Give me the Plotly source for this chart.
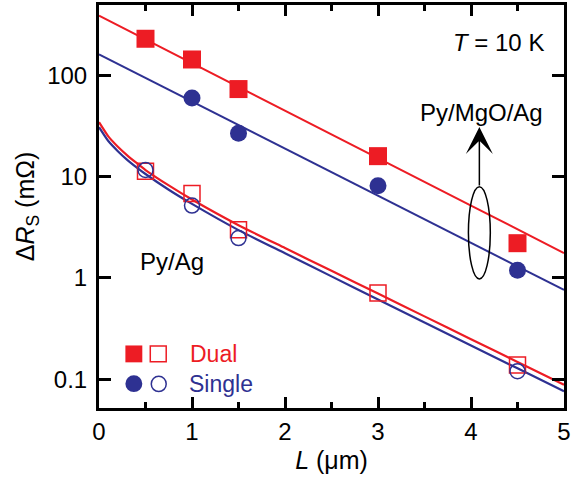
import plotly.graph_objects as go

# ---------------- data ----------------
L_pts = [0.5, 1.0, 1.5, 3.0, 4.5]
dual_mgo = [229, 143, 73, 15.9, 2.2]          # filled squares (Py/MgO/Ag, dual)
L_single_mgo = [1.0, 1.5, 3.0, 4.5]
single_mgo = [59.5, 26.8, 8.1, 1.19]          # filled circles (Py/MgO/Ag, single)
dual_ag = [11.3, 6.8, 2.98, 0.71, 0.138]      # open squares (Py/Ag, dual)
L_single_ag = [0.5, 1.0, 1.5, 4.5]
single_ag = [11.6, 5.17, 2.47, 0.12]          # open circles (Py/Ag, single)

# fitted curves
L_fit_mgo = [0, 1, 2, 3, 4, 5]
fit_dual_mgo = [387, 131, 44.8, 15.2, 5.17, 1.76]
fit_single_mgo = [161, 55, 18.8, 6.45, 2.21, 0.76]
L_fit_ag = [0, 0.1, 0.2, 0.3, 0.4, 0.5, 0.75, 1.0, 1.5, 2.0, 2.5, 3.0, 3.5, 4.0, 4.5, 5.0]
fit_dual_ag = [34.4, 24.9, 19.8, 16.3, 13.7, 11.6, 8.18, 5.93, 3.31, 1.97, 1.175,
               0.70, 0.417, 0.248, 0.148, 0.088]
fit_single_ag = [30.7, 22.4, 17.9, 14.7, 12.4, 10.6, 7.41, 5.37, 2.96, 1.75, 1.035,
                 0.612, 0.363, 0.215, 0.128, 0.076]

y_tickvals = [0.1, 1, 10, 100]
y_ticktext = ["0.1", "1", "10", "100"]
x_tickvals = [0, 1, 2, 3, 4, 5]

RED = "#ED1C24"
BLUE = "#2E3192"
FONT = "Liberation Sans, Arial, Helvetica, sans-serif"

W, H = 573, 483
ML, MR, MT, MB = 99, 7, 2, 75
PW, PH = W - ML - MR, H - MT - MB


def px(x):
    return (x - ML) / PW


def py(y):
    return (H - MB - y) / PH


fig = go.Figure()

# fit curves
fig.add_trace(go.Scatter(x=L_fit_mgo, y=fit_dual_mgo, mode="lines",
                         line=dict(color=RED, width=2), showlegend=False))
fig.add_trace(go.Scatter(x=L_fit_mgo, y=fit_single_mgo, mode="lines",
                         line=dict(color=BLUE, width=2), showlegend=False))
fig.add_trace(go.Scatter(x=L_fit_ag, y=fit_single_ag, mode="lines",
                         line=dict(color=BLUE, width=2.2, shape="spline", smoothing=0.5),
                         showlegend=False))
fig.add_trace(go.Scatter(x=L_fit_ag, y=fit_dual_ag, mode="lines",
                         line=dict(color=RED, width=2.2, shape="spline", smoothing=0.5),
                         showlegend=False))

# data points
fig.add_trace(go.Scatter(x=L_pts, y=dual_mgo, mode="markers",
                         marker=dict(symbol="square", size=18, color=RED, line=dict(width=0)),
                         showlegend=False))
fig.add_trace(go.Scatter(x=L_single_mgo, y=single_mgo, mode="markers",
                         marker=dict(symbol="circle", size=17, color=BLUE, line=dict(width=0)),
                         showlegend=False))
fig.add_trace(go.Scatter(x=L_pts, y=dual_ag, mode="markers",
                         marker=dict(symbol="square-open", size=16, color=RED, line=dict(width=1.5)),
                         showlegend=False))
fig.add_trace(go.Scatter(x=L_single_ag, y=single_ag, mode="markers",
                         marker=dict(symbol="circle-open", size=15, color=BLUE, line=dict(width=1.5)),
                         showlegend=False))

shapes = [
    # legend symbols
    dict(type="rect", xref="paper", yref="paper", x0=px(125.5), x1=px(142.5),
         y0=py(362), y1=py(345), fillcolor=RED, line=dict(width=0)),
    dict(type="rect", xref="paper", yref="paper", x0=px(150.5), x1=px(166.5),
         y0=py(361.5), y1=py(345.5), line=dict(color=RED, width=1.5)),
    dict(type="circle", xref="paper", yref="paper", x0=px(125.5), x1=px(142.5),
         y0=py(392), y1=py(375), fillcolor=BLUE, line=dict(width=0)),
    dict(type="circle", xref="paper", yref="paper", x0=px(151.5), x1=px(166.5),
         y0=py(391.5), y1=py(376), line=dict(color=BLUE, width=1.5)),
    # ellipse
    dict(type="circle", xref="paper", yref="paper", x0=px(470), x1=px(492),
         y0=py(278), y1=py(185), line=dict(color="black", width=1.5)),
]

ann_font = dict(family=FONT, size=24, color="black")
annotations = [
    dict(x=px(500), y=py(40), xref="paper", yref="paper", text="<i>T</i> = 10 K",
         showarrow=False, font=ann_font, xanchor="center", yanchor="middle"),
    dict(x=px(483), y=py(110), xref="paper", yref="paper", text="Py/MgO/Ag",
         showarrow=False, font=ann_font, xanchor="center", yanchor="middle"),
    dict(x=px(172.5), y=py(260), xref="paper", yref="paper", text="Py/Ag",
         showarrow=False, font=ann_font, xanchor="center", yanchor="middle"),
    dict(x=px(188), y=py(354), xref="paper", yref="paper", text="Dual",
         showarrow=False, font=dict(family=FONT, size=23, color=RED),
         xanchor="left", yanchor="middle"),
    dict(x=px(187), y=py(384), xref="paper", yref="paper", text="Single",
         showarrow=False, font=dict(family=FONT, size=23, color=BLUE),
         xanchor="left", yanchor="middle"),
    dict(x=px(481), y=py(125), xref="paper", yref="paper", text="",
         showarrow=True, ax=0, ay=60, axref="pixel", ayref="pixel",
         arrowhead=3, arrowsize=3.0, arrowwidth=1.5, arrowcolor="black"),
]

axis_common = dict(
    showline=True, linewidth=3, linecolor="black", mirror="ticks",
    ticks="inside", tickwidth=2.5, tickcolor="black",
    showgrid=False, zeroline=False,
    tickfont=dict(family=FONT, size=24, color="black"),
)

fig.update_layout(
    width=W, height=H,
    margin=dict(l=ML, r=MR, t=MT, b=MB, pad=0),
    paper_bgcolor="white", plot_bgcolor="white",
    font=dict(family=FONT, color="black"),
    showlegend=False,
    shapes=shapes,
    annotations=annotations,
    xaxis=dict(
        range=[0, 5], tickvals=x_tickvals, ticklen=11,
        minor=dict(dtick=0.5, ticks="inside", ticklen=6, tickwidth=2.5, tickcolor="black"),
        title=dict(text="<i>L</i> (μm)", font=dict(family=FONT, size=25), standoff=8),
        **axis_common,
    ),
    yaxis=dict(
        type="log", range=[-1.284, 2.693], tickvals=y_tickvals, ticktext=y_ticktext,
        ticklen=12, ticklabelstandoff=4,
        title=dict(text="Δ<i>R</i><sub>S</sub> (mΩ)", font=dict(family=FONT, size=25), standoff=6),
        **axis_common,
    ),
)

fig.write_html("out.html")
